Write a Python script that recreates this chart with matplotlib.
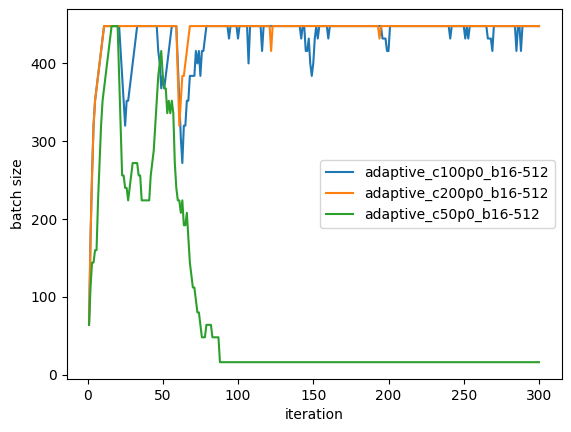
import numpy as np
import matplotlib
matplotlib.use('Agg')
import matplotlib.pyplot as plt

iterations = np.arange(1, 301)

c100_batch = [
    64, 176, 256, 320, 352, 368, 384, 400, 416, 432, 448, 448, 448, 448, 448, 448, 448, 448, 448, 448,
    448, 416, 384, 352, 320, 352, 352, 368, 384, 400, 416, 432, 448, 448, 448, 448, 448, 448, 448, 448,
    448, 448, 448, 448, 448, 448, 416, 400, 368, 384, 368, 384, 400, 416, 432, 448, 448, 448, 448, 400,
    352, 304, 272, 320, 320, 352, 352, 384, 384, 384, 384, 416, 400, 416, 384, 416, 416, 432, 448, 448,
    448, 448, 448, 448, 448, 448, 448, 448, 448, 448, 448, 448, 448, 432, 448, 448, 448, 448, 448, 432,
    448, 448, 448, 448, 448, 448, 400, 448, 448, 448, 448, 448, 448, 448, 448, 416, 448, 448, 448, 448,
    448, 448, 448, 448, 448, 448, 448, 448, 448, 448, 448, 448, 448, 448, 448, 448, 448, 448, 448, 448,
    448, 432, 448, 448, 416, 416, 432, 400, 384, 400, 432, 448, 432, 448, 448, 448, 448, 448, 448, 432,
    448, 448, 448, 448, 448, 448, 448, 448, 448, 448, 448, 448, 448, 448, 448, 448, 448, 448, 448, 448,
    448, 448, 448, 448, 448, 448, 448, 448, 448, 448, 448, 448, 448, 448, 448, 432, 432, 432, 416, 416,
    448, 448, 448, 448, 448, 448, 448, 448, 448, 448, 448, 448, 448, 448, 448, 448, 448, 448, 448, 448,
    448, 448, 448, 448, 448, 448, 448, 448, 448, 448, 448, 448, 448, 448, 448, 448, 448, 448, 448, 448,
    432, 448, 448, 448, 448, 448, 448, 448, 448, 448, 432, 448, 432, 448, 448, 448, 448, 448, 448, 448,
    448, 448, 448, 448, 448, 432, 432, 432, 416, 448, 448, 448, 448, 448, 448, 448, 448, 448, 448, 448,
    448, 448, 448, 448, 416, 448, 448, 416, 448, 448, 448, 448, 448, 448, 448, 448, 448, 448, 448, 448,
]

c200_batch = [
    64, 176, 256, 320, 352, 368, 384, 400, 416, 432, 448, 448, 448, 448, 448, 448, 448, 448, 448, 448,
    448, 448, 448, 448, 448, 448, 448, 448, 448, 448, 448, 448, 448, 448, 448, 448, 448, 448, 448, 448,
    448, 448, 448, 448, 448, 448, 448, 448, 448, 448, 448, 448, 448, 448, 448, 448, 448, 448, 448, 384,
    320, 352, 384, 384, 400, 416, 432, 448, 448, 448, 448, 448, 448, 448, 448, 448, 448, 448, 448, 448,
    448, 448, 448, 448, 448, 448, 448, 448, 448, 448, 448, 448, 448, 448, 448, 448, 448, 448, 448, 448,
    448, 448, 448, 448, 448, 448, 448, 448, 448, 448, 448, 448, 448, 448, 448, 448, 448, 448, 448, 448,
    448, 416, 448, 448, 448, 448, 448, 448, 448, 448, 448, 448, 448, 448, 448, 448, 448, 448, 448, 448,
    448, 448, 448, 448, 448, 448, 448, 448, 448, 448, 448, 448, 448, 448, 448, 448, 448, 448, 448, 448,
    448, 448, 448, 448, 448, 448, 448, 448, 448, 448, 448, 448, 448, 448, 448, 448, 448, 448, 448, 448,
    448, 448, 448, 448, 448, 448, 448, 448, 448, 448, 448, 448, 448, 432, 448, 448, 448, 448, 448, 448,
    448, 448, 448, 448, 448, 448, 448, 448, 448, 448, 448, 448, 448, 448, 448, 448, 448, 448, 448, 448,
    448, 448, 448, 448, 448, 448, 448, 448, 448, 448, 448, 448, 448, 448, 448, 448, 448, 448, 448, 448,
    448, 448, 448, 448, 448, 448, 448, 448, 448, 448, 448, 448, 448, 448, 448, 448, 448, 448, 448, 448,
    448, 448, 448, 448, 448, 448, 448, 448, 448, 448, 448, 448, 448, 448, 448, 448, 448, 448, 448, 448,
    448, 448, 448, 448, 448, 448, 448, 448, 448, 448, 448, 448, 448, 448, 448, 448, 448, 448, 448, 448,
]

c50_batch = [
    64, 112, 144, 144, 160, 160, 224, 272, 320, 352, 368, 384, 400, 416, 432, 448, 448, 448, 448, 448,
    384, 320, 256, 256, 240, 240, 224, 240, 256, 272, 272, 272, 272, 256, 256, 224, 224, 224, 224, 224,
    224, 256, 272, 288, 320, 352, 384, 400, 416, 384, 368, 368, 336, 352, 336, 352, 336, 272, 240, 224,
    224, 208, 224, 192, 192, 208, 176, 144, 128, 112, 112, 96, 80, 80, 64, 48, 48, 48, 64, 64,
    64, 64, 48, 48, 48, 48, 48, 16, 16, 16, 16, 16, 16, 16, 16, 16, 16, 16, 16, 16,
    16, 16, 16, 16, 16, 16, 16, 16, 16, 16, 16, 16, 16, 16, 16, 16, 16, 16, 16, 16,
    16, 16, 16, 16, 16, 16, 16, 16, 16, 16, 16, 16, 16, 16, 16, 16, 16, 16, 16, 16,
    16, 16, 16, 16, 16, 16, 16, 16, 16, 16, 16, 16, 16, 16, 16, 16, 16, 16, 16, 16,
    16, 16, 16, 16, 16, 16, 16, 16, 16, 16, 16, 16, 16, 16, 16, 16, 16, 16, 16, 16,
    16, 16, 16, 16, 16, 16, 16, 16, 16, 16, 16, 16, 16, 16, 16, 16, 16, 16, 16, 16,
    16, 16, 16, 16, 16, 16, 16, 16, 16, 16, 16, 16, 16, 16, 16, 16, 16, 16, 16, 16,
    16, 16, 16, 16, 16, 16, 16, 16, 16, 16, 16, 16, 16, 16, 16, 16, 16, 16, 16, 16,
    16, 16, 16, 16, 16, 16, 16, 16, 16, 16, 16, 16, 16, 16, 16, 16, 16, 16, 16, 16,
    16, 16, 16, 16, 16, 16, 16, 16, 16, 16, 16, 16, 16, 16, 16, 16, 16, 16, 16, 16,
    16, 16, 16, 16, 16, 16, 16, 16, 16, 16, 16, 16, 16, 16, 16, 16, 16, 16, 16, 16,
]

plt.figure(figsize=(5.71, 4.32), dpi=100)
plt.subplots_adjust(left=0.1165, right=0.9834, bottom=0.1227, top=0.9785)

plt.plot(iterations, c100_batch, label='adaptive_c100p0_b16-512')
plt.plot(iterations, c200_batch, label='adaptive_c200p0_b16-512')
plt.plot(iterations, c50_batch, label='adaptive_c50p0_b16-512')

plt.xlabel('iteration')
plt.ylabel('batch size')
plt.legend(loc='center right')

plt.savefig('out.png', dpi=100)
